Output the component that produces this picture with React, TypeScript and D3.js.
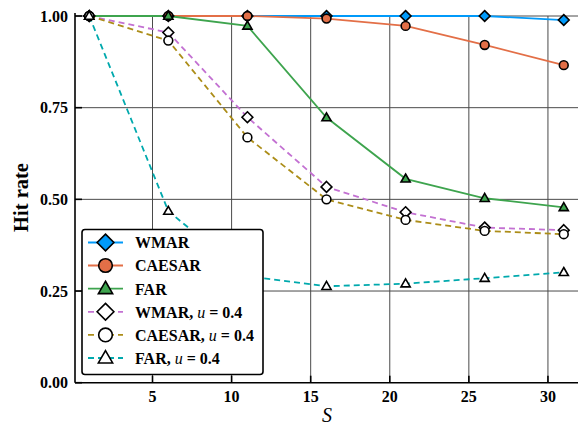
import React from "react";
import * as d3 from "d3";

const S = [1, 6, 11, 16, 21, 26, 31];
const wmar = [1, 1, 1, 1, 1, 1, 0.989];
const caesar = [1, 1, 1, 0.993, 0.973, 0.921, 0.866];
const far = [1, 1, 0.973, 0.723, 0.556, 0.503, 0.478];
const wmarU = [1, 0.955, 0.724, 0.534, 0.465, 0.423, 0.416];
const caesarU = [1, 0.933, 0.669, 0.5, 0.444, 0.414, 0.405];
const farU = [1, 0.468, 0.29, 0.263, 0.27, 0.285, 0.301];

const xTicks = [5, 10, 15, 20, 25, 30];
const yTicks = [0, 0.25, 0.5, 0.75, 1.0];

const seriesNames = ["WMAR", "CAESAR", "FAR", "WMAR", "CAESAR", "FAR"];
const seriesU = [false, false, false, true, true, true];
const seriesValues = [wmar, caesar, far, wmarU, caesarU, farU];
const seriesColors = ["#009AFA", "#E36F47", "#3EA44E", "#C371D2", "#AC8D18", "#00A9AD"];
const seriesShapes = ["diamond", "circle", "triangle", "diamond", "circle", "triangle"];

const W = 580, H = 428;
const left = 75, right = 578, top = 16, bottom = 382.7;

function Marker({ shape, x, y, fill, k = 1 }: { shape: string; x: number; y: number; fill: string; k?: number }) {
  const st = { fill, stroke: "#000", strokeWidth: 1.6 };
  if (shape === "diamond") {
    const r = 5.4 * k;
    return <path d={`M${x},${y - r}L${x + r},${y}L${x},${y + r}L${x - r},${y}Z`} {...st} />;
  }
  if (shape === "circle") return <circle cx={x} cy={y} r={4.4 * k} {...st} />;
  const hw = 4.6 * k;
  const h = 8 * k;
  return <path d={`M${x},${y - h * 0.6}L${x + hw},${y + h * 0.4}L${x - hw},${y + h * 0.4}Z`} {...st} />;
}

export default function App() {
  const xs = d3.scaleLinear().domain([0.1, 31.9]).range([left, right]);
  const ys = d3.scaleLinear().domain([0, 1]).range([bottom, top]);
  const line = d3
    .line<number>()
    .x((_, i) => xs(S[i]))
    .y((v) => ys(v));
  const font = "Liberation Serif, Times New Roman, Times, DejaVu Serif, serif";

  const legX = 82, legY = 229.5, legW = 181, legH = 145;
  const legRows = [242.5, 265.5, 288.7, 311.8, 334.9, 358];

  return (
    <svg width={W} height={H} style={{ position: "absolute", left: 0, top: 0, background: "#fff", fontFamily: font }}>
      {xTicks.map((t) => (
        <line key={"gx" + t} x1={xs(t)} x2={xs(t)} y1={top} y2={bottom} stroke="#4a4a4a" strokeWidth={1} />
      ))}
      {yTicks.filter((t) => t > 0).map((t) => (
        <line key={"gy" + t} x1={left} x2={right} y1={ys(t)} y2={ys(t)} stroke="#4a4a4a" strokeWidth={1} />
      ))}
      <line x1={left} x2={right} y1={bottom} y2={bottom} stroke="#000" strokeWidth={1.6} />
      <line x1={left} x2={left} y1={bottom} y2={top - 3} stroke="#000" strokeWidth={1.6} />
      {xTicks.map((t) => (
        <line key={"tx" + t} x1={xs(t)} x2={xs(t)} y1={bottom} y2={bottom - 7} stroke="#000" strokeWidth={1.6} />
      ))}
      {yTicks.map((t) => (
        <line key={"ty" + t} x1={left} x2={left + 7} y1={ys(t)} y2={ys(t)} stroke="#000" strokeWidth={1.6} />
      ))}
      {xTicks.map((t) => (
        <text key={"lx" + t} x={xs(t)} y={402} textAnchor="middle" fontSize={16} fontWeight="bold">
          {t}
        </text>
      ))}
      {yTicks.map((t) => (
        <text key={"ly" + t} x={68} y={ys(t) + 5.5} textAnchor="end" fontSize={16} fontWeight="bold">
          {t.toFixed(2)}
        </text>
      ))}
      <text x={327} y={422} textAnchor="middle" fontSize={20} fontStyle="italic">
        S
      </text>
      <text
        transform={`translate(28,197.5) rotate(-90)`}
        textAnchor="middle"
        fontSize={20.5}
        fontWeight="bold"
      >
        Hit rate
      </text>
      {seriesValues.map((vals, si) => (
        <path
          key={"s" + si}
          d={line(vals) || ""}
          fill="none"
          stroke={seriesColors[si]}
          strokeWidth={1.8}
          strokeDasharray={seriesU[si] ? "6,4" : undefined}
        />
      ))}
      {seriesValues.map((vals, si) =>
        vals.map((v, i) => (
          <Marker
            key={"m" + si + "-" + i}
            shape={seriesShapes[si]}
            x={xs(S[i])}
            y={ys(v)}
            fill={seriesU[si] ? "#fff" : seriesColors[si]}
          />
        ))
      )}
      <rect x={legX} y={legY} width={legW} height={legH} rx={3} fill="#fff" stroke="#000" strokeWidth={1.6} />
      {legRows.map((ry, si) => (
        <g key={"leg" + si}>
          <line
            x1={88}
            x2={123}
            y1={ry}
            y2={ry}
            stroke={seriesColors[si]}
            strokeWidth={1.8}
            strokeDasharray={seriesU[si] ? "6,4" : undefined}
          />
          <Marker shape={seriesShapes[si]} x={105.5} y={ry} k={1.55} fill={seriesU[si] ? "#fff" : seriesColors[si]} />
          <text x={135} y={ry + 5.8} fontSize={16} fontWeight="bold">
            {seriesNames[si]}
            {seriesU[si] ? (
              <>
                {", "}
                <tspan fontStyle="italic" fontWeight="normal">u</tspan>
                {" = 0.4"}
              </>
            ) : null}
          </text>
        </g>
      ))}
    </svg>
  );
}
